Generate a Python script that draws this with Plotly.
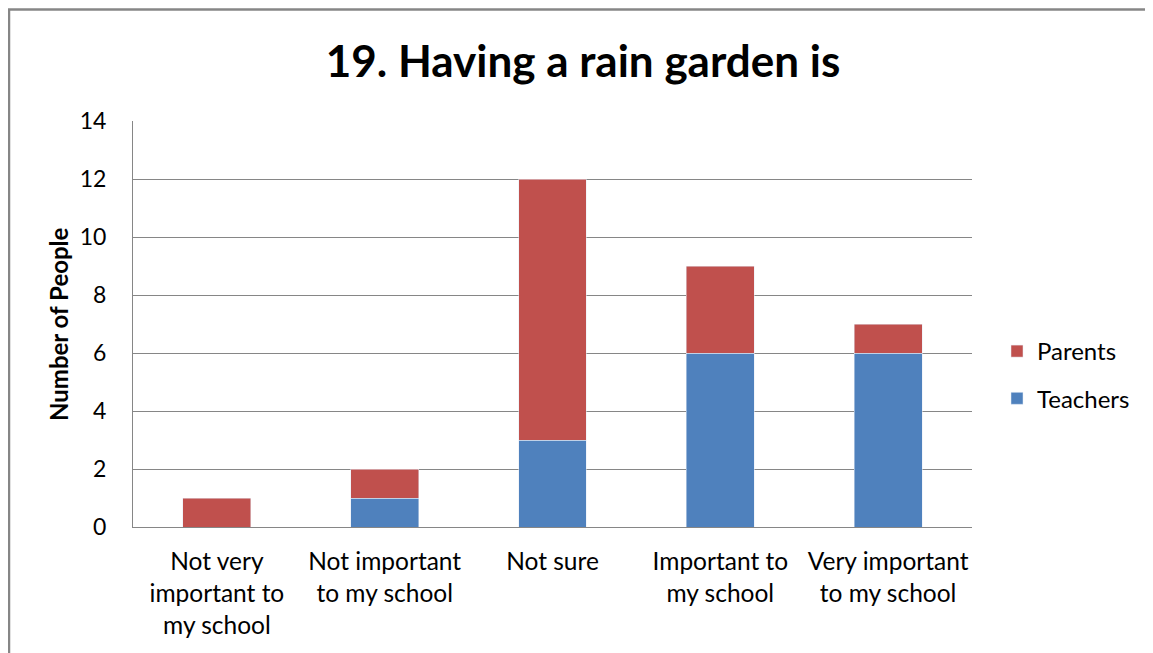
import plotly.graph_objects as go

categories = ["Not very<br>important to<br>my school", "Not important<br>to my school", "Not sure",
              "Important to<br>my school", "Very important<br>to my school"]
teachers = [0, 1, 3, 6, 6]
parents = [1, 1, 9, 3, 1]

FONT = "Lato"
# page is drawn with an 8px body margin, so shift everything up/left by 8
L, T, R, B = 125, 113, 964, 519
PW, PH = R - L, B - T

fig = go.Figure()
fig.add_trace(go.Bar(x=categories, y=teachers, name="Teachers", marker_color="#4F81BD",
                     legendgroup="t", legendrank=2))
fig.add_trace(go.Bar(x=categories, y=parents, name="Parents", marker_color="#C0504D",
                     legendgroup="p", legendrank=1))

fig.update_layout(
    width=1153, height=653,
    barmode="stack", bargap=0.595,
    paper_bgcolor="white", plot_bgcolor="white",
    margin=dict(l=L, r=1153 - R, t=T, b=653 - B),
    font=dict(family=FONT, size=24, color="#000000"),
    title=dict(text="<b>19. Having a rain garden is</b>", x=(575 - L) / PW, xref="paper",
               xanchor="center", y=1 - 54 / 653, yanchor="middle",
               font=dict(size=44, family=FONT)),
    legend=dict(x=(989 - R) / PW + 1, xanchor="left", y=(B - 367) / PH, yanchor="middle",
                traceorder="grouped", tracegroupgap=13,
                font=dict(size=24), itemwidth=30),
    shapes=[dict(type="rect", xref="paper", yref="paper",
                 x0=(1 - L) / PW, x1=1.4, y0=-0.5, y1=(B - 1.5) / PH,
                 line=dict(color="#868686", width=2.5), layer="below")],
    annotations=[dict(text="<b>Number of People</b>", xref="paper", yref="paper",
                      x=(50 - L) / PW, y=0.5, xanchor="center", yanchor="middle",
                      textangle=-90, showarrow=False, font=dict(size=24))],
)
fig.update_yaxes(range=[0, 14], dtick=2, showgrid=True, gridcolor="#868686", gridwidth=1,
                 showline=True, linecolor="#868686", linewidth=1, zeroline=False,
                 ticklabelstandoff=21, tickfont=dict(size=23))
fig.update_xaxes(showline=True, linecolor="#868686", linewidth=1, ticks="",
                 ticklabelstandoff=13, tickfont=dict(size=24.5), tickangle=0)

fig.write_html("out.html")
